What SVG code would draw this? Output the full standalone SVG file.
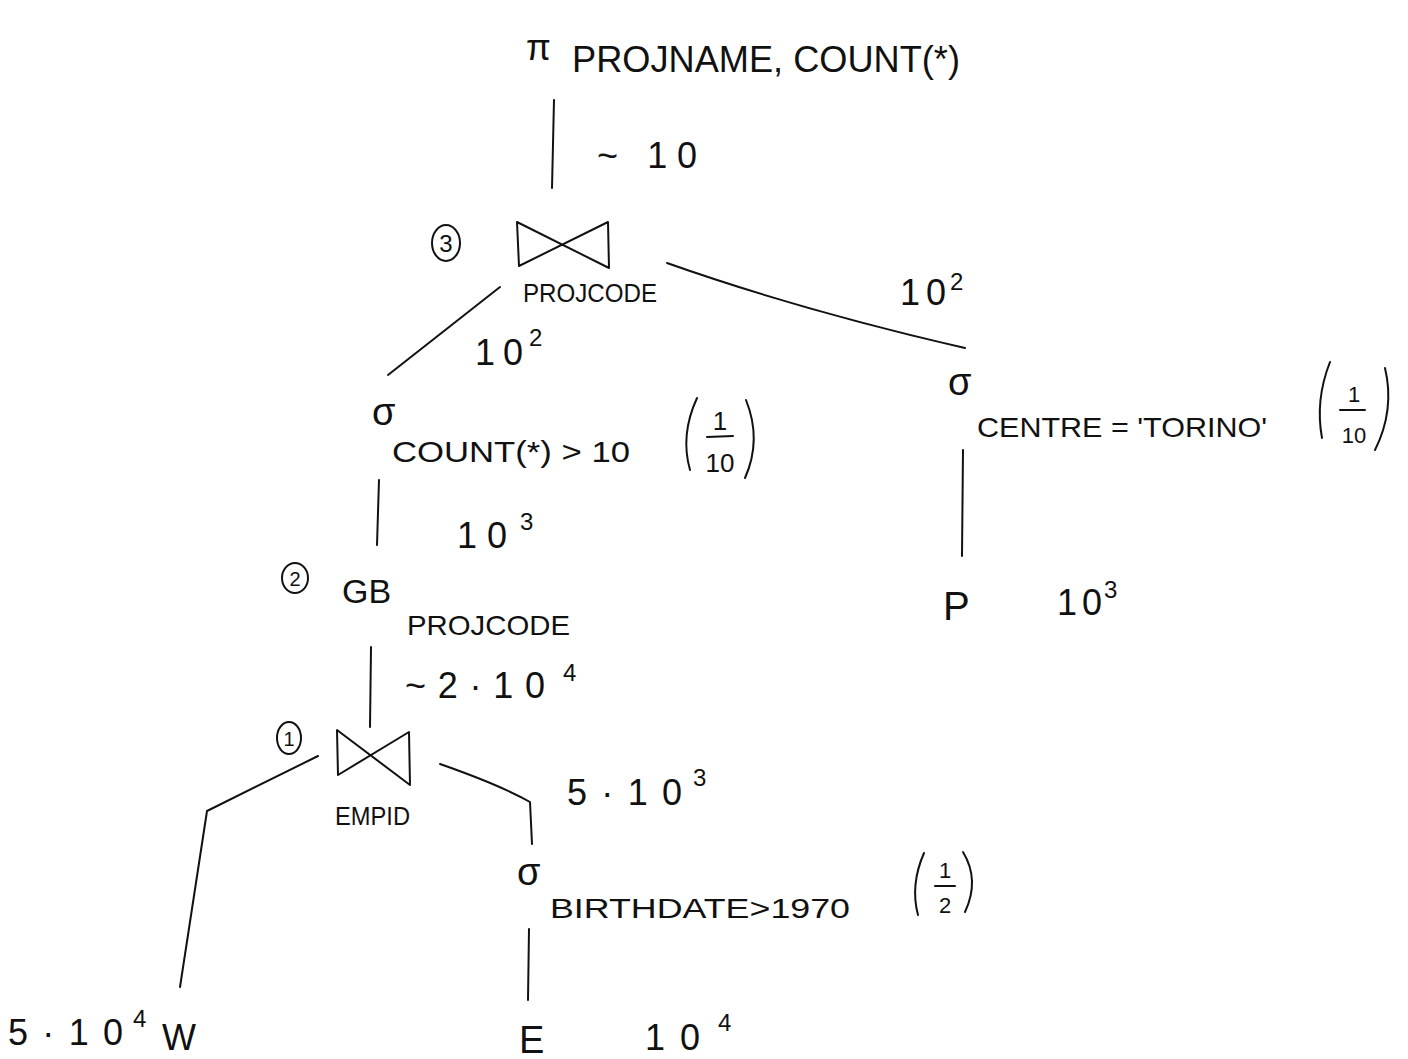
<svg xmlns="http://www.w3.org/2000/svg" width="1408" height="1059" viewBox="0 0 1408 1059">
<style>
text{font-family:"Liberation Sans","DejaVu Sans",sans-serif;fill:#111}
.ln{stroke:#111;stroke-width:2;fill:none;stroke-linecap:round;stroke-linejoin:round}
.num{font-size:36px}
.sup{font-size:24px}
.sg{font-size:38px}
</style>
<rect width="1408" height="1059" fill="#fff"/>
<g id="connectors" class="ln">
<path d="M554,100 L552,188"/>
<path d="M667,263 Q800,310 965,348"/>
<path d="M500,287 L388,375"/>
<path d="M379,480 L377,545"/>
<path d="M371,647 L370,727"/>
<path d="M318,756 L207,811 L180,987"/>
<path d="M440,764 Q500,785 530,802 L532,844"/>
<path d="M529,929 L528,1000"/>
<path d="M963,450 L962,556"/>
</g>
<g id="proj">
<text x="526" y="60" style="font-size:36px">π</text>
<text x="572" y="72" style="font-size:36px" textLength="388" lengthAdjust="spacingAndGlyphs">PROJNAME, COUNT(*)</text>
</g>
<text id="c-top" class="num" x="597" y="168" textLength="100">~ 10</text>
<g id="join3">
<ellipse class="ln" cx="446" cy="243" rx="14" ry="18"/>
<text x="446" y="252" text-anchor="middle" style="font-size:24px">3</text>
<path class="ln" d="M517,222 L519,266 L608,222 L609,268 Z"/>
<text x="523" y="302" style="font-size:26px" textLength="134" lengthAdjust="spacingAndGlyphs">PROJCODE</text>
</g>
<g id="c-right"><text class="num" x="900" y="305" textLength="46">10</text><text class="sup" x="950" y="290">2</text></g>
<g id="c-left"><text class="num" x="475" y="365" textLength="48">10</text><text class="sup" x="529" y="346">2</text></g>
<g id="sel-count">
<text class="sg" x="372" y="425">σ</text>
<text x="392" y="462" style="font-size:30px" textLength="238" lengthAdjust="spacingAndGlyphs">COUNT(*) &gt; 10</text>
<path class="ln" d="M697,398 Q680,435 690,470 M746,400 Q762,440 745,478 M707,437 L733,436"/>
<text x="720" y="430" text-anchor="middle" style="font-size:26px">1</text>
<text x="720" y="472" text-anchor="middle" style="font-size:26px">10</text>
</g>
<g id="c-gb"><text class="num" x="457" y="548" textLength="50">10</text><text class="sup" x="520" y="530">3</text></g>
<g id="gb">
<ellipse class="ln" cx="295" cy="578" rx="13" ry="15"/>
<text x="295" y="586" text-anchor="middle" style="font-size:20px">2</text>
<text x="342" y="603" style="font-size:34px">GB</text>
<text x="407" y="635" style="font-size:28px" textLength="163" lengthAdjust="spacingAndGlyphs">PROJCODE</text>
</g>
<g id="c-join1"><text class="num" x="405" y="698" textLength="140">~2·10</text><text class="sup" x="563" y="681">4</text></g>
<g id="join1">
<ellipse class="ln" cx="289" cy="738" rx="12" ry="16"/>
<text x="289" y="746" text-anchor="middle" style="font-size:20px">1</text>
<path class="ln" d="M337,730 L338,775 L409,732 L410,785 Z"/>
<text x="335" y="825" style="font-size:26px" textLength="75" lengthAdjust="spacingAndGlyphs">EMPID</text>
</g>
<g id="c-sel-e"><text class="num" x="567" y="805" textLength="115">5·10</text><text class="sup" x="693" y="786">3</text></g>
<g id="sel-birth">
<text class="sg" x="517" y="885">σ</text>
<text x="550" y="918" style="font-size:28px" textLength="300" lengthAdjust="spacingAndGlyphs">BIRTHDATE&gt;1970</text>
<path class="ln" d="M924,853 Q910,885 918,915 M963,852 Q980,880 965,912 M935,886 L955,886"/>
<text x="945" y="878" text-anchor="middle" style="font-size:22px">1</text>
<text x="945" y="913" text-anchor="middle" style="font-size:22px">2</text>
</g>
<g id="W">
<text class="num" x="8" y="1045" textLength="115">5·10</text><text class="sup" x="133" y="1027">4</text>
<text x="162" y="1050" style="font-size:36px">W</text>
</g>
<g id="E">
<text x="519" y="1053" style="font-size:38px">E</text>
<text class="num" x="645" y="1050" textLength="55">10</text><text class="sup" x="718" y="1031">4</text>
</g>
<g id="sel-centre">
<text class="sg" x="948" y="395">σ</text>
<text x="977" y="437" style="font-size:28px" textLength="290" lengthAdjust="spacingAndGlyphs">CENTRE = 'TORINO'</text>
<path class="ln" d="M1330,362 Q1315,400 1322,438 M1385,368 Q1395,410 1375,450 M1340,410 L1365,410"/>
<text x="1354" y="402" text-anchor="middle" style="font-size:22px">1</text>
<text x="1354" y="443" text-anchor="middle" style="font-size:22px">10</text>
</g>
<g id="P">
<text x="943" y="620" style="font-size:40px">P</text>
<text class="num" x="1057" y="615" textLength="45">10</text><text class="sup" x="1104" y="598">3</text>
</g>
</svg>
